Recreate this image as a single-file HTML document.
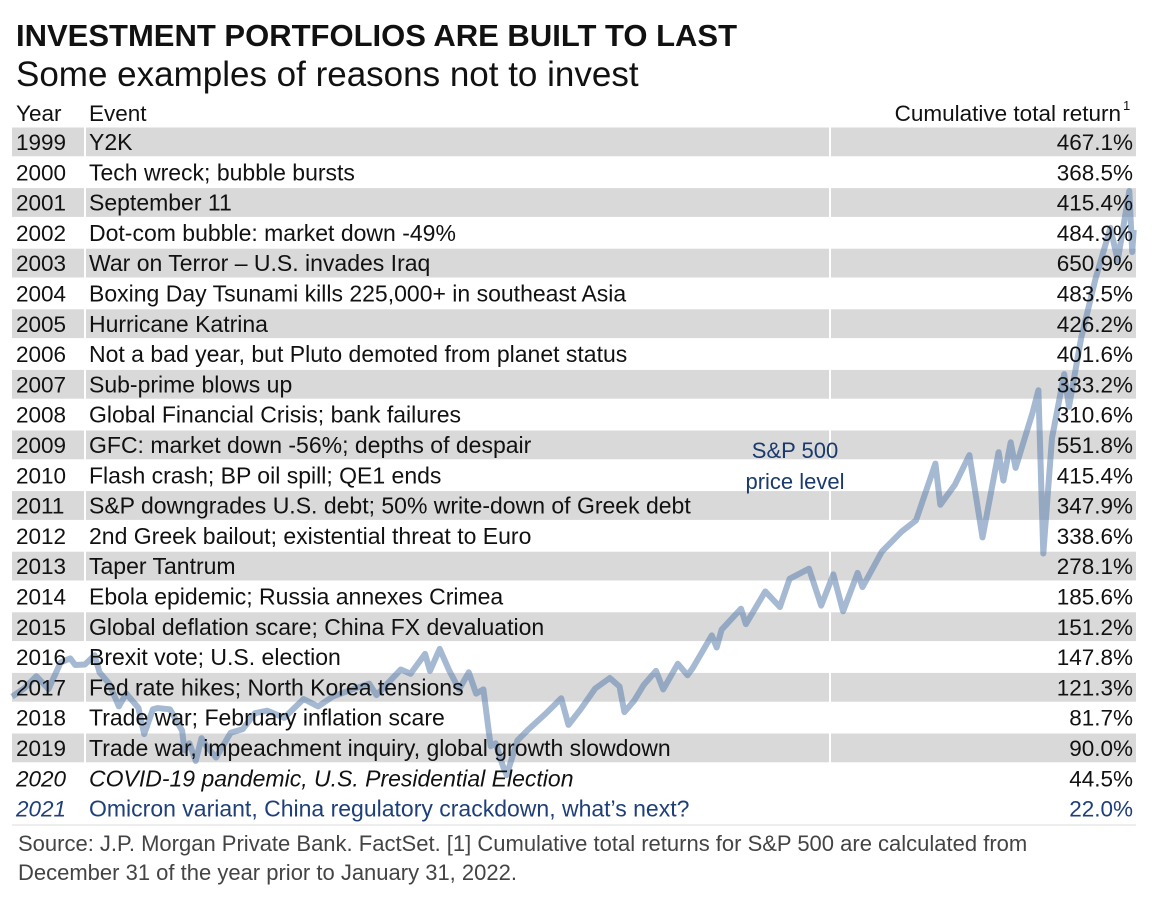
<!DOCTYPE html>
<html><head><meta charset="utf-8">
<style>
html,body{margin:0;padding:0;background:#fff;}
svg{display:block;font-family:"Liberation Sans",sans-serif;}
</style></head>
<body>
<svg id="chart" width="1152" height="904" viewBox="0 0 1152 904">
<text x="16" y="46" font-size="31" font-weight="bold" fill="#111">INVESTMENT PORTFOLIOS ARE BUILT TO LAST</text>
<text x="16" y="86" font-size="35" fill="#111">Some examples of reasons not to invest</text>
<text x="16" y="121" font-size="22.5" fill="#111">Year</text>
<text x="89" y="121" font-size="22.5" fill="#111">Event</text>
<text x="1121" y="121" font-size="22.5" fill="#111" text-anchor="end">Cumulative total return</text>
<text x="1123" y="110" font-size="13" fill="#111">1</text>
<g id="rows"></g>
<g id="line"></g>
<g id="texts"></g>
<text x="795" y="458" font-size="22" fill="#1a3a6e" text-anchor="middle">S&amp;P 500</text>
<text x="795" y="489" font-size="22" fill="#1a3a6e" text-anchor="middle">price level</text>
<text x="18" y="851" font-size="22" fill="#444">Source: J.P. Morgan Private Bank. FactSet. [1] Cumulative total returns for S&amp;P 500 are calculated from</text>
<text x="18" y="880" font-size="22" fill="#444">December 31 of the year prior to January 31, 2022.</text>
</svg>
<script>
const years = ["1999","2000","2001","2002","2003","2004","2005","2006","2007","2008","2009","2010","2011","2012","2013","2014","2015","2016","2017","2018","2019","2020","2021"];
const events = ["Y2K","Tech wreck; bubble bursts","September 11","Dot-com bubble: market down -49%","War on Terror – U.S. invades Iraq","Boxing Day Tsunami kills 225,000+ in southeast Asia","Hurricane Katrina","Not a bad year, but Pluto demoted from planet status","Sub-prime blows up","Global Financial Crisis; bank failures","GFC: market down -56%; depths of despair","Flash crash; BP oil spill; QE1 ends","S&P downgrades U.S. debt; 50% write-down of Greek debt","2nd Greek bailout; existential threat to Euro","Taper Tantrum","Ebola epidemic; Russia annexes Crimea","Global deflation scare; China FX devaluation","Brexit vote; U.S. election","Fed rate hikes; North Korea tensions","Trade war; February inflation scare","Trade war, impeachment inquiry, global growth slowdown","COVID-19 pandemic, U.S. Presidential Election","Omicron variant, China regulatory crackdown, what’s next?"];
const returns = ["467.1%","368.5%","415.4%","484.9%","650.9%","483.5%","426.2%","401.6%","333.2%","310.6%","551.8%","415.4%","347.9%","338.6%","278.1%","185.6%","151.2%","147.8%","121.3%","81.7%","90.0%","44.5%","22.0%"];
const priceDates = [1999.0,1999.25,1999.5,1999.75,2000.0,2000.2,2000.3,2000.5,2000.7,2000.8,2001.0,2001.2,2001.35,2001.6,2001.72,2001.9,2002.0,2002.25,2002.5,2002.55,2002.65,2002.78,2002.9,2003.0,2003.2,2003.5,2003.75,2004.0,2004.25,2004.6,2005.0,2005.3,2005.6,2006.0,2006.35,2006.5,2007.0,2007.2,2007.5,2007.6,2007.8,2008.0,2008.2,2008.4,2008.55,2008.7,2008.85,2008.95,2009.1,2009.18,2009.4,2009.6,2010.0,2010.3,2010.45,2010.7,2011.0,2011.3,2011.5,2011.6,2011.8,2012.0,2012.25,2012.4,2012.7,2012.9,2013.0,2013.4,2013.5,2013.6,2014.0,2014.1,2014.5,2014.8,2015.0,2015.4,2015.65,2015.9,2016.1,2016.4,2016.5,2016.9,2017.3,2017.6,2018.0,2018.1,2018.4,2018.7,2018.97,2019.3,2019.4,2019.55,2019.65,2020.0,2020.12,2020.22,2020.4,2020.65,2020.75,2021.0,2021.3,2021.6,2021.75,2021.99,2022.05,2022.08];
const priceValues = [1229,1286,1373,1282,1469,1498,1452,1455,1520,1400,1320,1160,1250,1150,965,1140,1148,1140,990,850,900,776,936,880,800,975,1000,1112,1130,1080,1212,1160,1230,1280,1320,1240,1420,1390,1530,1410,1565,1410,1280,1400,1250,1280,880,900,740,677,920,990,1115,1217,1030,1140,1286,1360,1300,1120,1200,1312,1410,1280,1460,1380,1426,1660,1575,1700,1848,1740,1970,1860,2059,2130,1870,2090,1830,2100,2000,2250,2390,2470,2870,2580,2720,2930,2350,2950,2750,3020,2840,3230,3386,2237,3050,3500,3270,3756,4180,4530,4300,4790,4360,4516];

const NS="http://www.w3.org/2000/svg";
const rowTop=127.5, rowH=30.3;
const rowsG=document.getElementById('rows'), textsG=document.getElementById('texts'), lineG=document.getElementById('line');
function mk(tag,attrs){const e=document.createElementNS(NS,tag);for(const k in attrs)e.setAttribute(k,attrs[k]);return e;}
years.forEach((y,i)=>{
  const top=rowTop+i*rowH;
  if(i%2===0 && i<=20){
    [[12,72],[86,743],[831,305]].forEach(([x,w])=>{
      const r=mk('rect',{x:x,y:top,width:w,height:rowH-1.5,fill:'#d9d9d9'});
      
      
      rowsG.appendChild(r);
    });
  }
  const base=top+22.5;
  const last=i===22, ital=i>=21;
  const col=last?'#1f3f7a':'#111';
  const t1=mk('text',{x:16,y:base,'font-size':22.5,fill:col});
  if(ital)t1.setAttribute('font-style','italic');
  t1.textContent=y;
  
  
  textsG.appendChild(t1);
  const t2=mk('text',{x:89,y:base,'font-size':23,fill:col});
  if(i===21)t2.setAttribute('font-style','italic');
  t2.textContent=events[i];
  
  
  textsG.appendChild(t2);
  const t3=mk('text',{x:1133,y:base,'font-size':22.5,fill:col,'text-anchor':'end'});
  t3.textContent=returns[i];
  
  
  textsG.appendChild(t3);
});
const sep=mk('line',{x1:12,x2:1136,y1:825,y2:825,stroke:'#ddd','stroke-width':1});


rowsG.appendChild(sep);
const xS=d=>12+(d-1999)*48.6;
const yS=v=>775-(v-677)*0.142;
const pts=priceDates.map((d,i)=>xS(d).toFixed(1)+','+yS(priceValues[i]).toFixed(1)).join(' ');
const pl=mk('polyline',{points:pts,fill:'none',stroke:'#5b7fae','stroke-opacity':0.55,'stroke-width':6,'stroke-linejoin':'round'});


lineG.appendChild(pl);
</script>
</body></html>
